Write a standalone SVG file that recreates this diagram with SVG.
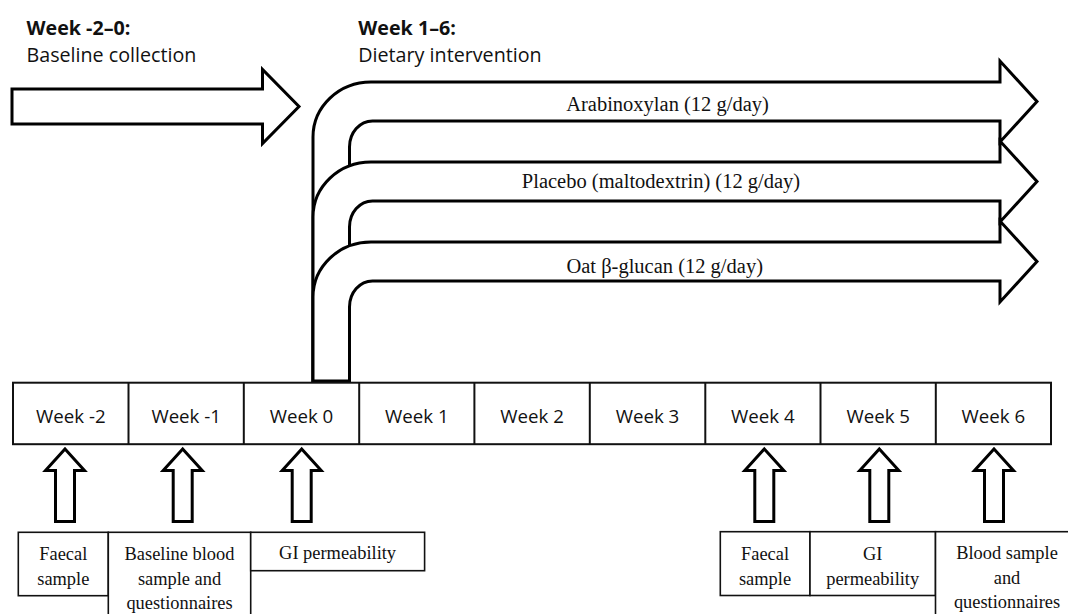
<svg xmlns="http://www.w3.org/2000/svg" width="1068" height="614" viewBox="0 0 1068 614">
<style>
.bg{fill:#ffffff}
.arr{fill:#ffffff;stroke:#000;stroke-width:3;stroke-linejoin:miter}
.tl{fill:#ffffff;stroke:#111;stroke-width:2}
.box{fill:#ffffff;stroke:#111;stroke-width:1.6}
.hb{font-family:"Open Sans","DejaVu Sans",sans-serif;font-weight:bold;font-size:19.7px;fill:#111}
.hr{font-family:"Open Sans","DejaVu Sans",sans-serif;font-size:19.7px;fill:#111}
.wk{font-family:"Open Sans","DejaVu Sans",sans-serif;font-size:18.7px;fill:#111;text-anchor:middle}
.band{font-family:"Liberation Serif","Times New Roman",serif;font-size:20.5px;fill:#111;text-anchor:middle}
.bt{font-family:"Liberation Serif","Times New Roman",serif;font-size:18.4px;fill:#111;text-anchor:middle}
</style>
<rect class="bg" x="0" y="0" width="1068" height="614"/>

<g id="headings">
<text class="hb" x="26.5" y="34.5">Week -2–0:</text>
<text class="hr" x="26.5" y="61.5">Baseline collection</text>
<text class="hb" x="358.3" y="34.5">Week 1–6:</text>
<text class="hr" x="358.3" y="61.5">Dietary intervention</text>
</g>

<g id="baseline-arrow">
<path class="arr" d="M 12 89 L 262.5 89 L 262.5 69.5 L 299 106.5 L 262.5 143.5 L 262.5 124 L 12 124 Z"/>
</g>

<g id="intervention-arrows">
<g id="arabinoxylan">
<path class="arr" d="M 313 381 L 313 137 A 58 55 0 0 1 371 82 L 1000 82 L 1000 61 L 1037 101.5 L 1000 142 L 1000 121 L 372.5 121 A 23 26 0 0 0 349.5 147 L 349.5 381 Z"/>
</g>
<g id="placebo">
<path class="arr" d="M 313 381 L 313 217 A 58 55 0 0 1 371 162 L 1000 162 L 1000 141 L 1037 181.5 L 1000 222 L 1000 201 L 372.5 201 A 23 26 0 0 0 349.5 227 L 349.5 381 Z"/>
</g>
<g id="oat">
<path class="arr" d="M 313 381 L 313 297 A 58 55 0 0 1 371 242 L 1000 242 L 1000 221 L 1037 261.5 L 1000 302 L 1000 281 L 372.5 281 A 23 26 0 0 0 349.5 307 L 349.5 381 Z"/>
</g>
<text class="band" x="667.5" y="110.5">Arabinoxylan (12 g/day)</text>
<text class="band" x="661" y="188.3">Placebo (maltodextrin) (12 g/day)</text>
<text class="band" x="664.7" y="272.5">Oat β-glucan (12 g/day)</text>
</g>

<g id="timeline">
<rect class="tl" x="13" y="382.7" width="1038" height="61.5"/>
<line class="tl" x1="128.5" y1="382.7" x2="128.5" y2="444.2"/>
<line class="tl" x1="243.8" y1="382.7" x2="243.8" y2="444.2"/>
<line class="tl" x1="359.2" y1="382.7" x2="359.2" y2="444.2"/>
<line class="tl" x1="474.4" y1="382.7" x2="474.4" y2="444.2"/>
<line class="tl" x1="589.8" y1="382.7" x2="589.8" y2="444.2"/>
<line class="tl" x1="705.3" y1="382.7" x2="705.3" y2="444.2"/>
<line class="tl" x1="820.5" y1="382.7" x2="820.5" y2="444.2"/>
<line class="tl" x1="935.8" y1="382.7" x2="935.8" y2="444.2"/>
<text class="wk" x="70.8" y="423">Week -2</text>
<text class="wk" x="186.2" y="423">Week -1</text>
<text class="wk" x="301.5" y="423">Week 0</text>
<text class="wk" x="416.8" y="423">Week 1</text>
<text class="wk" x="532.1" y="423">Week 2</text>
<text class="wk" x="647.5" y="423">Week 3</text>
<text class="wk" x="762.9" y="423">Week 4</text>
<text class="wk" x="878.2" y="423">Week 5</text>
<text class="wk" x="993.4" y="423">Week 6</text>
</g>

<g id="connectors">
<path class="arr" d="M 65 449 L 84.5 470.5 L 74.5 470.5 L 74.5 521.5 L 55.5 521.5 L 55.5 470.5 L 45.5 470.5 Z"/>
<path class="arr" d="M 182.7 449 L 202.2 470.5 L 192.2 470.5 L 192.2 521.5 L 173.2 521.5 L 173.2 470.5 L 163.2 470.5 Z"/>
<path class="arr" d="M 301.7 449 L 321.2 470.5 L 311.2 470.5 L 311.2 521.5 L 292.2 521.5 L 292.2 470.5 L 282.2 470.5 Z"/>
<path class="arr" d="M 764.3 449 L 783.8 470.5 L 773.8 470.5 L 773.8 521.5 L 754.8 521.5 L 754.8 470.5 L 744.8 470.5 Z"/>
<path class="arr" d="M 879.3 449 L 898.8 470.5 L 888.8 470.5 L 888.8 521.5 L 869.8 521.5 L 869.8 470.5 L 859.8 470.5 Z"/>
<path class="arr" d="M 994 449 L 1013.5 470.5 L 1003.5 470.5 L 1003.5 521.5 L 984.5 521.5 L 984.5 470.5 L 974.5 470.5 Z"/>
</g>

<g id="faecal-baseline">
<rect class="box" x="18.3" y="532.3" width="90" height="63.4"/>
<text class="bt" x="63.3" y="560">Faecal</text>
<text class="bt" x="63.3" y="584.5">sample</text>
</g>
<g id="blood-baseline">
<rect class="box" x="108.3" y="532.3" width="142.4" height="95"/>
<text class="bt" x="179.5" y="560">Baseline blood</text>
<text class="bt" x="179.5" y="584.5">sample and</text>
<text class="bt" x="179.5" y="608.5">questionnaires</text>
</g>
<g id="gi-baseline">
<rect class="box" x="250.7" y="532.3" width="173.9" height="38.4"/>
<text class="bt" x="337.6" y="559">GI permeability</text>
</g>
<g id="faecal-week4">
<rect class="box" x="720.3" y="531.7" width="89.7" height="63.8"/>
<text class="bt" x="765" y="560">Faecal</text>
<text class="bt" x="765" y="584.5">sample</text>
</g>
<g id="gi-week5">
<rect class="box" x="810" y="531.7" width="125.5" height="63.8"/>
<text class="bt" x="872.7" y="560">GI</text>
<text class="bt" x="872.7" y="584.5">permeability</text>
</g>
<g id="blood-week6">
<rect class="box" x="935.5" y="531.7" width="140" height="95"/>
<text class="bt" x="1007" y="558.5">Blood sample</text>
<text class="bt" x="1007" y="583.5">and</text>
<text class="bt" x="1007" y="608">questionnaires</text>
</g>
</svg>
